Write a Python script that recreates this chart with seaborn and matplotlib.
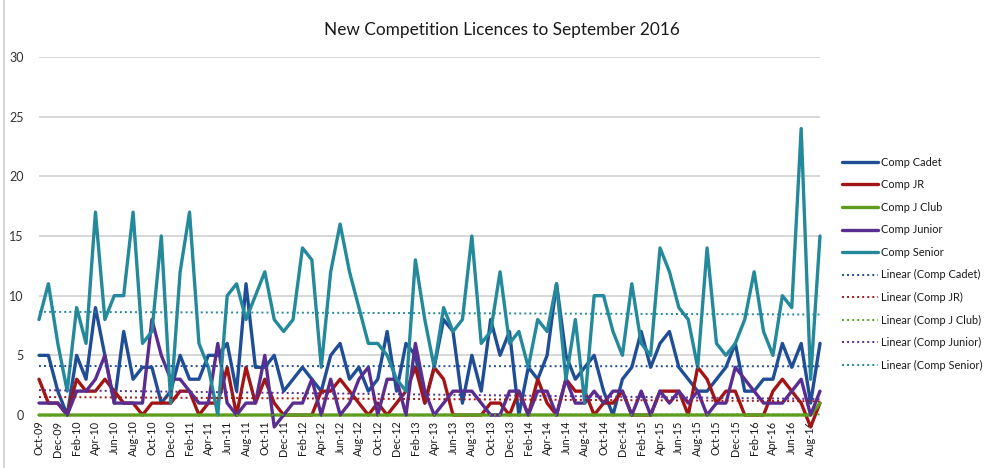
import numpy as np
import pandas as pd
import matplotlib
matplotlib.use("Agg")
import matplotlib.pyplot as plt
import seaborn as sns
from matplotlib.lines import Line2D

# ---------------- data ----------------
months = pd.date_range("2009-10-01", periods=84, freq="MS").strftime("%b-%y").tolist()

comp_cadet = [5, 5, 2, 0, 5, 3, 9, 5, 1, 7, 3, 4, 4, 1, 2, 5, 3, 3, 5, 5, 6, 2, 11,
              4, 4, 5, 2, 3, 4, 3, 2, 5, 6, 3, 4, 2, 3, 7, 2, 6, 5,
              1, 4, 8, 7, 1, 5, 2, 8, 5, 7, 0, 4, 3, 5, 11, 5, 3, 4,
              5, 2, 0, 3, 4, 7, 4, 6, 7, 4, 3, 2, 2, 3, 4, 6, 2, 2, 3, 3, 6, 4, 6, 1, 6]
comp_jr = [3, 1, 1, 0, 3, 2, 2, 3, 2, 1, 1, 0, 1, 1, 1, 2, 2, 0, 1, 1, 4, 0, 4,
           1, 3, 1, 0, 0, 0, 0, 2, 2, 3, 2, 1, 0, 1, 0, 1, 2, 4,
           1, 4, 3, 0, 0, 0, 0, 1, 1, 0, 2, 0, 3, 1, 0, 3, 2, 2,
           0, 1, 1, 2, 0, 0, 0, 2, 2, 2, 0, 4, 3, 1, 2, 2, 0, 0, 0, 2, 3, 2, 1, -1, 1]
comp_jclub = [0] * 83 + [1]
comp_junior = [1, 1, 1, 0, 2, 2, 3, 5, 1, 1, 1, 1, 8, 5, 3, 3, 2, 1, 1, 6, 1, 0, 1,
               1, 5, -1, 0, 1, 1, 3, 0, 3, 0, 1, 3, 4, 0, 3, 3, 0, 6,
               2, 0, 1, 2, 2, 2, 1, 0, 0, 2, 2, 0, 2, 2, 0, 3, 1, 1,
               2, 1, 2, 2, 0, 2, 0, 2, 1, 2, 1, 2, 0, 1, 1, 4, 3, 2, 1, 1, 1, 2, 3, 0, 2]
comp_senior = [8, 11, 6, 2, 9, 6, 17, 8, 10, 10, 17, 6, 7, 15, 1, 12, 17, 6, 4, 0, 10, 11, 8,
               10, 12, 8, 7, 8, 14, 13, 4, 12, 16, 12, 9, 6, 6, 5, 3, 2, 13,
               8, 4, 9, 7, 8, 15, 6, 7, 12, 6, 7, 4, 8, 7, 11, 3, 8, 1,
               10, 10, 7, 5, 11, 6, 5, 14, 12, 9, 8, 4, 14, 6, 5, 6, 8, 12, 7, 5, 10, 9, 24, 3, 15]

series_names = ["Comp Cadet", "Comp JR", "Comp J Club", "Comp Junior", "Comp Senior"]
series_values = [comp_cadet, comp_jr, comp_jclub, comp_junior, comp_senior]
colors = ["#1F4E96", "#A31515", "#5E9E1E", "#5A2D91", "#23899B"]
y_ticks = [0, 5, 10, 15, 20, 25, 30]

# ---------------- style ----------------
sns.set_style("white")
plt.rcParams["font.family"] = ["Lato", "DejaVu Sans"]

fig = plt.figure(figsize=(9.87, 4.68), dpi=100)
fig.patch.set_facecolor("white")
ax = fig.add_axes([0.0395, 0.1132, 0.7913, 0.765])

idx = np.arange(len(months))
df = pd.DataFrame({"idx": idx})
for name, vals in zip(series_names, series_values):
    df[name] = vals
long = df.melt(id_vars="idx", var_name="series", value_name="value")
palette = dict(zip(series_names, colors))

sns.lineplot(data=long, x="idx", y="value", hue="series", hue_order=series_names,
             palette=palette, linewidth=2.4, ax=ax, legend=False, zorder=3)

# linear trendlines
for name, col in zip(series_names, colors):
    sns.regplot(data=df, x="idx", y=name, scatter=False, ci=None, ax=ax, truncate=True,
                line_kws=dict(color=col, linewidth=1.4, linestyle=(0, (1, 1.6)), zorder=4))

for ln in ax.lines:
    ln.set_clip_on(False)

ax.set_xlim(0, len(months) - 1)
ax.set_ylim(0, 30)
ax.set_yticks(y_ticks)
ax.set_yticklabels([str(t) for t in y_ticks], fontsize=9, color="#333333")
ax.set_xticks(idx[::2])
ax.set_xticklabels(months[::2], rotation=90, fontsize=7.8, color="#1A1A1A")
ax.tick_params(axis="both", length=0)
ax.tick_params(axis="y", pad=11)
ax.tick_params(axis="x", pad=4)
ax.set_xlabel("")
ax.set_ylabel("")
ax.grid(axis="y", color="#D4D4D4", linewidth=1.3)
ax.grid(axis="x", visible=False)
for s in ax.spines.values():
    s.set_visible(False)
ax.set_axisbelow(True)

fig.text(0.509, 0.935, "New Competition Licences to September 2016",
         ha="center", va="center", fontsize=12.4, color="#1A1A1A")

# legend
handles = [Line2D([], [], color=c, linewidth=2.4) for c in colors]
handles += [Line2D([], [], color=c, linewidth=1.4, linestyle=(0, (1, 1.6))) for c in colors]
labels = series_names + [f"Linear ({n})" for n in series_names]
fig.legend(handles, labels, loc="upper left", bbox_to_anchor=(0.853, 0.665),
           frameon=False, fontsize=7.9, handlelength=3.3, handletextpad=0.3,
           labelspacing=1.05, borderaxespad=0, borderpad=0, labelcolor="#1A1A1A")

fig.add_artist(Line2D([0.004, 0.004], [0, 1], color="#D0D0D0", linewidth=1.2,
                      transform=fig.transFigure))

fig.savefig("out.png", dpi=100, facecolor="white")
